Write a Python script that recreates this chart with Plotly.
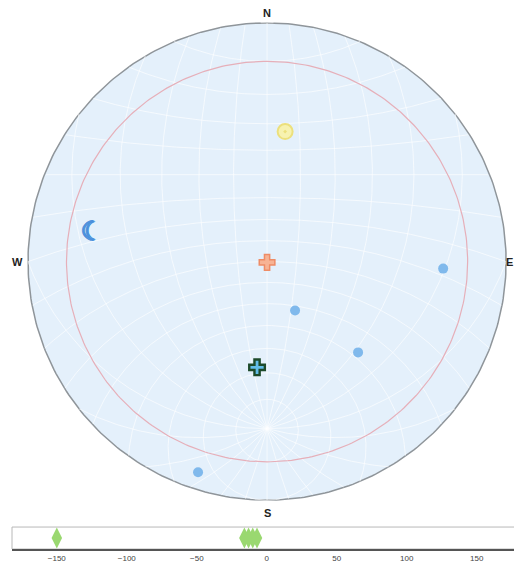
import numpy as np
import plotly.graph_objects as go

# Observer latitude for the equatorial grid (degrees)
LATITUDE = -20.0

# Sky objects: azimuth (deg, N=0, E=90) and altitude (deg)
sun_az, sun_alt = [7.9], [32.4]
moon_az, moon_alt = [279.0], [17.0]
planet_az, planet_alt = [180.0], [89.6]
star_az = [92.3, 150.3, 135.0, 198.1]
star_alt = [17.2, 63.4, 33.4, 4.2]
target_az, target_alt = [185.4], [42.0]

# Altitude limit ring (deg)
limit_alt = 10.0

# Strip of values shown under the sky view
strip_values = [-150, -16, -13, -10, -7]
strip_ticks = [-150, -100, -50, 0, 50, 100, 150]

compass_labels = ["N", "S", "W"]
compass_az = [0, 180, 270]
compass_alt = [-2.4, -2.9, -2.4]


def altaz_to_xy(az, alt):
    az = np.radians(np.asarray(az, dtype=float))
    alt = np.asarray(alt, dtype=float)
    r = np.tan(np.radians(90.0 - alt) / 2.0)
    return r * np.sin(az), r * np.cos(az)


def eq_to_xy(ha, dec, lat=LATITUDE):
    ha = np.radians(np.asarray(ha, dtype=float))
    dec = np.radians(np.asarray(dec, dtype=float))
    phi = np.radians(lat)
    e = -np.cos(dec) * np.sin(ha)
    n = np.cos(phi) * np.sin(dec) - np.sin(phi) * np.cos(dec) * np.cos(ha)
    u = np.sin(phi) * np.sin(dec) + np.cos(phi) * np.cos(dec) * np.cos(ha)
    x = e / (1 + u)
    y = n / (1 + u)
    mask = u < -0.001
    x = np.where(mask, np.nan, x)
    y = np.where(mask, np.nan, y)
    return x, y


fig = go.Figure()

# Sky disc
ring = np.linspace(0, 360, 361)
hx, hy = altaz_to_xy(ring, np.zeros_like(ring))
fig.add_trace(go.Scatter(x=hx, y=hy, mode="lines", fill="toself",
                         fillcolor="#e4f0fb", line=dict(color="#8f959a", width=1.5),
                         hoverinfo="skip", showlegend=False, xaxis="x", yaxis="y"))

# Equatorial grid: declination circles and hour lines
gx, gy = [], []
ha_fine = np.linspace(0, 360, 721)
for dec in range(-80, 90, 10):
    x, y = eq_to_xy(ha_fine, np.full_like(ha_fine, dec))
    gx += list(x) + [None]
    gy += list(y) + [None]
dec_fine = np.linspace(-90, 90, 361)
for ha in range(0, 360, 15):
    x, y = eq_to_xy(np.full_like(dec_fine, ha), dec_fine)
    gx += list(x) + [None]
    gy += list(y) + [None]
fig.add_trace(go.Scatter(x=gx, y=gy, mode="lines",
                         line=dict(color="rgba(255,255,255,0.7)", width=0.9),
                         hoverinfo="skip", showlegend=False, xaxis="x", yaxis="y"))

# Altitude limit ring
lx, ly = altaz_to_xy(ring, np.full_like(ring, limit_alt))
fig.add_trace(go.Scatter(x=lx, y=ly, mode="lines",
                         line=dict(color="#e6afb9", width=1.2),
                         hoverinfo="skip", showlegend=False, xaxis="x", yaxis="y"))

# Stars
sx, sy = altaz_to_xy(star_az, star_alt)
fig.add_trace(go.Scatter(x=sx, y=sy, mode="markers",
                         marker=dict(symbol="circle", size=10, color="#80b9ec",
                                     line=dict(width=0)),
                         showlegend=False, xaxis="x", yaxis="y"))

# Sun
ux, uy = altaz_to_xy(sun_az, sun_alt)
fig.add_trace(go.Scatter(x=ux, y=uy, mode="markers",
                         marker=dict(symbol="circle-dot", size=15, color="#f7f2b0",
                                     line=dict(color="#ece07c", width=2)),
                         showlegend=False, xaxis="x", yaxis="y"))

# Moon
mx, my = altaz_to_xy(moon_az, moon_alt)
fig.add_trace(go.Scatter(x=mx, y=my, mode="text", text=["<b>☾</b>"],
                         textfont=dict(size=26, color="#4a90dc", family="DejaVu Sans",
                                       shadow="1px 0 0 #4a90dc, -1px 0 0 #4a90dc, "
                                              "0 1px 0 #4a90dc, 0 -1px 0 #4a90dc"),
                         showlegend=False, xaxis="x", yaxis="y"))

# Planet at the zenith
px_, py_ = altaz_to_xy(planet_az, planet_alt)
fig.add_trace(go.Scatter(x=px_, y=py_, mode="markers",
                         marker=dict(symbol="cross", size=13, color="#f7b394",
                                     line=dict(color="#ee8c66", width=1.5)),
                         showlegend=False, xaxis="x", yaxis="y"))

# Selected target
tx, ty = altaz_to_xy(target_az, target_alt)
fig.add_trace(go.Scatter(x=tx, y=ty, mode="markers",
                         marker=dict(symbol="cross", size=13, color="#62bde8",
                                     line=dict(color="#1d4a2a", width=2.4)),
                         showlegend=False, xaxis="x", yaxis="y"))

# Compass labels
cx, cy = altaz_to_xy(compass_az, compass_alt)
for lab, x0, y0 in zip(compass_labels, cx, cy):
    fig.add_annotation(x=x0, y=y0, xref="x", yref="y", text=f"<b>{lab}</b>",
                       showarrow=False, font=dict(size=11, color="#222",
                                                  family="Liberation Sans"))
# East sits against the right edge of the page
ex, ey = altaz_to_xy([90], [0])
fig.add_annotation(x=1, y=ey[0], xref="paper", yref="y", xanchor="right",
                   text="<b>E</b>", showarrow=False, borderpad=0,
                   font=dict(size=11, color="#222", family="Liberation Sans"))

# Value strip
fig.add_trace(go.Scatter(x=strip_values, y=[0] * len(strip_values), mode="markers",
                         marker=dict(symbol="diamond-tall", size=15, color="#9ad870",
                                     line=dict(width=0)),
                         showlegend=False, xaxis="x2", yaxis="y2"))

fig.update_layout(
    width=514, height=565,
    margin=dict(l=12, r=0, t=0, b=16),
    paper_bgcolor="white", plot_bgcolor="white",
    xaxis=dict(domain=[0, 1], range=[-1.067, 1.033], visible=False, fixedrange=True),
    yaxis=dict(domain=[0.06, 1], range=[-1.0665, 1.096], visible=False, fixedrange=True),
    xaxis2=dict(domain=[0, 1], anchor="y2", range=[-182, 176.6],
                tickvals=strip_ticks, ticks="", showgrid=False, zeroline=False,
                showline=True, linecolor="#555", linewidth=2,
                tickfont=dict(size=8, color="#444", family="Liberation Sans"),
                mirror=False),
    yaxis2=dict(domain=[0, 0.04], anchor="x2", range=[-1, 1], visible=False),
    shapes=[dict(type="rect", xref="x2 domain", yref="y2 domain", x0=0, x1=1.02,
                 y0=0, y1=1, line=dict(color="#b8b8b8", width=1), fillcolor="rgba(0,0,0,0)",
                 layer="below")],
)

fig.write_html("out.html")
